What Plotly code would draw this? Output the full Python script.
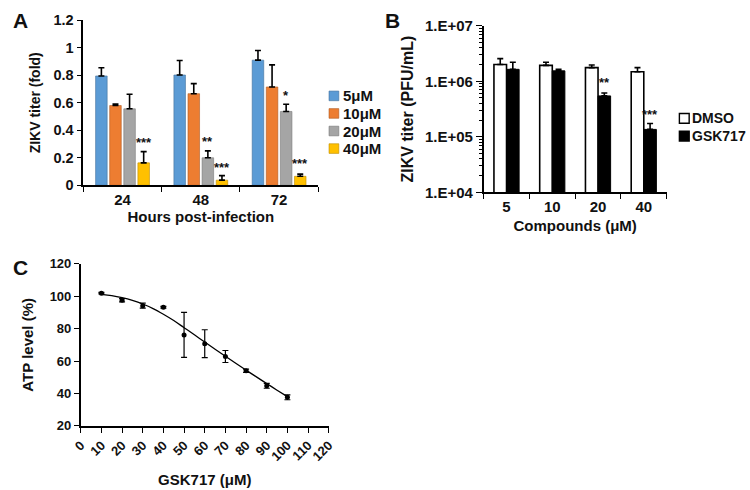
import math
import plotly.graph_objects as go

# ---------------- Data ----------------
# Panel A
hours = ["24", "48", "72"]
doses_a = ["5μM", "10μM", "20μM", "40μM"]
titer_5 = [0.795, 0.802, 0.910]
titer_10 = [0.580, 0.666, 0.715]
titer_20 = [0.556, 0.200, 0.537]
titer_40 = [0.163, 0.037, 0.065]
err_5 = [0.060, 0.105, 0.070]
err_10 = [0.010, 0.073, 0.161]
err_20 = [0.106, 0.050, 0.052]
err_40 = [0.082, 0.033, 0.016]
sig_a_text = ["***", "**", "***", "*", "***"]
sig_a_group = [0, 1, 1, 2, 2]
sig_a_series = [3, 2, 3, 2, 3]
sig_a_y = [0.32, 0.327, 0.14, 0.66, 0.163]

# Panel B
compounds = ["5", "10", "20", "40"]
dmso = [2.00e6, 1.93e6, 1.76e6, 1.48e6]
dmso_err = [0.56e6, 0.27e6, 0.20e6, 0.28e6]
gsk717 = [1.64e6, 1.54e6, 5.45e5, 1.36e5]
gsk717_err = [0.56e6, 0.10e6, 0.70e5, 0.38e5]
sig_b_text = ["**", "***"]
sig_b_idx = [2, 3]
sig_b_y = [1.05e6, 2.7e5]
b_ticks = [1e4, 1e5, 1e6, 1e7]
b_ticktext = ["1.E+04", "1.E+05", "1.E+06", "1.E+07"]

# Panel C
conc = [10, 20, 30, 40, 50, 60, 70, 80, 90, 100]
atp = [101.9, 97.5, 94.2, 93.2, 76.1, 70.7, 62.8, 54.0, 44.7, 37.6]
atp_err = [0.5, 1.0, 1.5, 0.5, 13.9, 8.6, 3.7, 1.0, 1.5, 1.5]
fit_x = [10, 15, 20, 25, 30, 35, 40, 45, 50, 55, 60, 65, 70, 75, 80, 85, 90, 95, 100]
fit_y = [101.2, 100.4, 99.1, 97.4, 95.2, 92.4, 88.9, 85.0, 80.6, 76.2, 71.7, 67.3, 62.9, 58.6, 54.4, 50.2, 46.1, 42.0, 38.0]

colors_a = ["#5B9BD5", "#ED7D31", "#A5A5A5", "#FFC000"]
edge_a = ["#41719C", "#AE5A21", "#787878", "#BC8C00"]

# ---------------- Layout helpers ----------------
W, H = 750, 490
def fx(p):
    return p / W
def fy(p):
    return 1 - p / H

FONT = "Liberation Sans, Arial, sans-serif"
INK = "#111111"
BARGAP_A = 0.28
BGG_A = 0.18
B_WIDTH = 0.275

fig = go.Figure()

# ---------------- Panel A ----------------
series_a = [titer_5, titer_10, titer_20, titer_40]
errs_a = [err_5, err_10, err_20, err_40]
for name, vals, errs, col, ec in zip(doses_a, series_a, errs_a, colors_a, edge_a):
    fig.add_trace(go.Bar(
        x=hours, y=vals, name=name, xaxis="x", yaxis="y", showlegend=False,
        marker=dict(color=col, line=dict(color=ec, width=0.6)),
        error_y=dict(type="data", array=errs, arrayminus=[0] * len(errs), symmetric=False,
                     color="black", thickness=1.6, width=3),
    ))

slot = (1 - BARGAP_A) / len(doses_a)
for t, g, s, yv in zip(sig_a_text, sig_a_group, sig_a_series, sig_a_y):
    xpos = g + (s - (len(doses_a) - 1) / 2) * slot
    fig.add_annotation(x=xpos, y=yv, xref="x", yref="y", text=t, showarrow=False,
                       yanchor="middle", yshift=-1,
                       font=dict(family=FONT, size=13, color=INK, weight="bold"))

# ---------------- Panel B ----------------
fig.add_trace(go.Bar(
    x=compounds, y=dmso, name="DMSO", xaxis="x2", yaxis="y2", showlegend=False,
    width=B_WIDTH, offset=-B_WIDTH,
    marker=dict(color="white", line=dict(color="black", width=1.6)),
    error_y=dict(type="data", array=dmso_err, arrayminus=[0] * 4, symmetric=False,
                 color="black", thickness=1.6, width=3),
))
fig.add_trace(go.Bar(
    x=compounds, y=gsk717, name="GSK717", xaxis="x2", yaxis="y2", showlegend=False,
    width=B_WIDTH, offset=0,
    marker=dict(color="black", line=dict(color="black", width=1)),
    error_y=dict(type="data", array=gsk717_err, arrayminus=[0] * 4, symmetric=False,
                 color="black", thickness=1.6, width=3),
))
for t, i, yv in zip(sig_b_text, sig_b_idx, sig_b_y):
    fig.add_annotation(x=i + B_WIDTH / 2, y=math.log10(yv), xref="x2", yref="y2", text=t,
                       showarrow=False, yanchor="middle", yshift=-2,
                       font=dict(family=FONT, size=13, color=INK, weight="bold"))

# ---------------- Panel C ----------------
fig.add_trace(go.Scatter(
    x=fit_x, y=fit_y, mode="lines", xaxis="x3", yaxis="y3", showlegend=False,
    line=dict(color="black", width=1.3, shape="spline"), name="fit",
))
fig.add_trace(go.Scatter(
    x=conc, y=atp, mode="markers", xaxis="x3", yaxis="y3", showlegend=False,
    marker=dict(color="black", size=5),
    error_y=dict(type="data", array=atp_err, color="black", thickness=1.2, width=3),
    name="ATP",
))

# ---------------- Axes ----------------
tickfont = dict(family=FONT, size=14, color=INK, weight="bold")
common = dict(showline=True, linecolor="black", linewidth=1.6, ticks="outside",
              tickcolor="black", tickwidth=1.4, showgrid=False, zeroline=False)

fig.update_layout(
    width=W, height=H, margin=dict(l=0, r=0, t=0, b=0),
    paper_bgcolor="white", plot_bgcolor="white",
    barmode="group", bargap=BARGAP_A, bargroupgap=BGG_A,
    font=dict(family=FONT, color=INK),
    xaxis=dict(domain=[fx(76), fx(316)], anchor="y", type="category", tickson="boundaries",
               ticklen=5, tickfont=dict(tickfont, size=15),
               title=dict(text="Hours post-infection", standoff=4,
                          font=dict(family=FONT, size=15, color=INK, weight="bold")), **common),
    yaxis=dict(domain=[fy(182.6), fy(11.7)], anchor="x", range=[0, 1.2], dtick=0.2,
               ticklen=5, tickfont=dict(tickfont, size=14.5),
               title=dict(text="ZIKV titer (fold)", standoff=10,
                          font=dict(family=FONT, size=14, color=INK, weight="bold")), **common),
    xaxis2=dict(domain=[fx(485), fx(672)], anchor="y2", type="category", tickson="boundaries",
                ticklen=5, tickfont=dict(tickfont, size=15),
                title=dict(text="Compounds (μM)", standoff=6,
                           font=dict(family=FONT, size=15, color=INK, weight="bold")), **common),
    yaxis2=dict(domain=[fy(190), fy(17.3)], anchor="x2", type="log", range=[4, 7],
                tickvals=b_ticks, ticktext=b_ticktext, ticklen=6, tickfont=dict(tickfont, size=15),
                minor=dict(ticks="outside", ticklen=3, tickcolor="black", tickwidth=1,
                           tickvals=[m * 10 ** e for e in range(4, 7) for m in range(2, 10)]),
                title=dict(text="ZIKV titer (PFU/mL)", standoff=7,
                           font=dict(family=FONT, size=16, color=INK, weight="bold")), **common),
    xaxis3=dict(domain=[fx(73.3), fx(326.7)], anchor="y3", range=[0, 120], dtick=10,
                tickangle=-45, ticklen=5, tickfont=dict(tickfont, size=13),
                title=dict(text="GSK717 (μM)", standoff=12,
                           font=dict(family=FONT, size=15, color=INK, weight="bold")), **common),
    yaxis3=dict(domain=[fy(431.8), fy(264)], anchor="x3", range=[20, 120], dtick=20,
                ticklen=5, tickfont=dict(tickfont, size=13),
                title=dict(text="ATP level (%)", standoff=12,
                           font=dict(family=FONT, size=15, color=INK, weight="bold")), **common),
)

# ---------------- Legends (drawn manually) ----------------
leg_a_rows = [90, 108.2, 126.4, 144.6]
for name, col, ec, yc in zip(doses_a, colors_a, edge_a, leg_a_rows):
    fig.add_shape(type="rect", xref="paper", yref="paper",
                  x0=fx(327), x1=fx(337), y0=fy(yc + 5), y1=fy(yc - 5),
                  fillcolor=col, line=dict(color=ec, width=0.6))
    fig.add_annotation(x=fx(339), y=fy(yc), xref="paper", yref="paper", text=name,
                       showarrow=False, xanchor="left", yanchor="middle",
                       font=dict(family=FONT, size=15, color=INK, weight="bold"))

leg_b = [("DMSO", "white", 113.3), ("GSK717", "black", 131.7)]
for name, col, yc in leg_b:
    fig.add_shape(type="rect", xref="paper", yref="paper",
                  x0=fx(685), x1=fx(695), y0=fy(yc + 5), y1=fy(yc - 5),
                  fillcolor=col, line=dict(color="black", width=1.4))
    fig.add_annotation(x=fx(696), y=fy(yc), xref="paper", yref="paper", text=name,
                       showarrow=False, xanchor="left", yanchor="middle",
                       font=dict(family=FONT, size=14, color=INK, weight="bold"))

# ---------------- Panel letters ----------------
for letter, px, py in [("A", 2, 12), ("B", 382, 12), ("C", 2, 268)]:
    fig.add_annotation(x=fx(px), y=fy(py), xref="paper", yref="paper", text=letter,
                       showarrow=False, xanchor="left", yanchor="middle",
                       font=dict(family=FONT, size=21, color=INK, weight="bold"))

fig.write_html("out.html", config={"displayModeBar": False},
               post_script="document.body.style.margin='0px';")
